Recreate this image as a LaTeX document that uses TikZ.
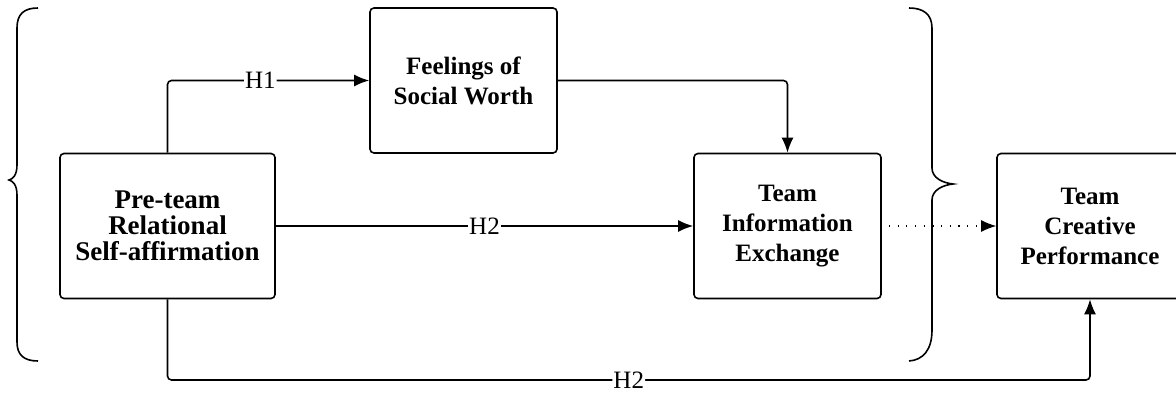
\documentclass[tikz,border=0pt]{standalone}
\usepackage{fontspec}
\setmainfont{Liberation Serif}
\usetikzlibrary{arrows.meta}
\tikzset{
  box/.style={draw, line width=1.6pt, rounded corners=4pt, align=center, font=\bfseries\fontsize{25}{30}\selectfont},
  conn/.style={line width=1.6pt, rounded corners=4pt, -{Latex[length=15pt,width=12pt]}},
  plain/.style={line width=1.6pt, rounded corners=4pt},
  hlab/.style={fill=white, inner sep=1pt, font=\fontsize{25}{30}\selectfont},
  brace/.style={line width=1.6pt},
  dots/.style={line width=1.2pt, dash pattern=on 1.2pt off 7.5pt, -{Latex[length=15pt,width=12pt]}}
}
\begin{document}
\begin{tikzpicture}[x=1pt,y=-1pt]
\useasboundingbox (0,0) rectangle (1176,396);
\node[box, minimum width=215pt, minimum height=145pt, font=\bfseries\fontsize{27}{26}\selectfont] (pre) at (167.5,226) {Pre-team\\Relational\\Self-affirmation};
\node[box, minimum width=187pt, minimum height=145pt] (feel) at (463.5,80.5) {Feelings of\\Social Worth};
\node[box, minimum width=187pt, minimum height=145pt] (tie) at (787.5,226) {Team\\Information\\Exchange};
\node[box, minimum width=186pt, minimum height=145pt] (tcp) at (1090,226) {Team\\Creative\\Performance};
\coordinate (bl) at (167.5,380);
\coordinate (br) at (1090,380);
% connectors
\draw[conn] (pre.north) |- node[hlab, pos=0.73] {H1} (feel.west);
\draw[conn] (feel.east) -| (tie.north);
\draw[conn] (pre.east) -- node[hlab] {H2} (tie.west);
\draw[conn] (pre.south) -- (bl) -- node[hlab] {H2} (br) -- (tcp.south);
\draw[dots] ([xshift=7pt]tie.east) -- (tcp.west);
% braces
\draw[brace] (38,8) .. controls (24,8) and (17,14) .. (17,28) -- (17,165)
  .. controls (17,175) and (13,179) .. (9,180)
  .. controls (13,181) and (17,185) .. (17,195) -- (17,342)
  .. controls (17,355) and (24,361) .. (38,361);
\draw[brace] (909,8) .. controls (923,8) and (932,14) .. (932,28) -- (932,168)
  .. controls (932,178) and (943,183) .. (953,184)
  .. controls (943,185) and (932,190) .. (932,200) -- (932,330)
  .. controls (932,350) and (923,360) .. (909,361);
\end{tikzpicture}
\end{document}
